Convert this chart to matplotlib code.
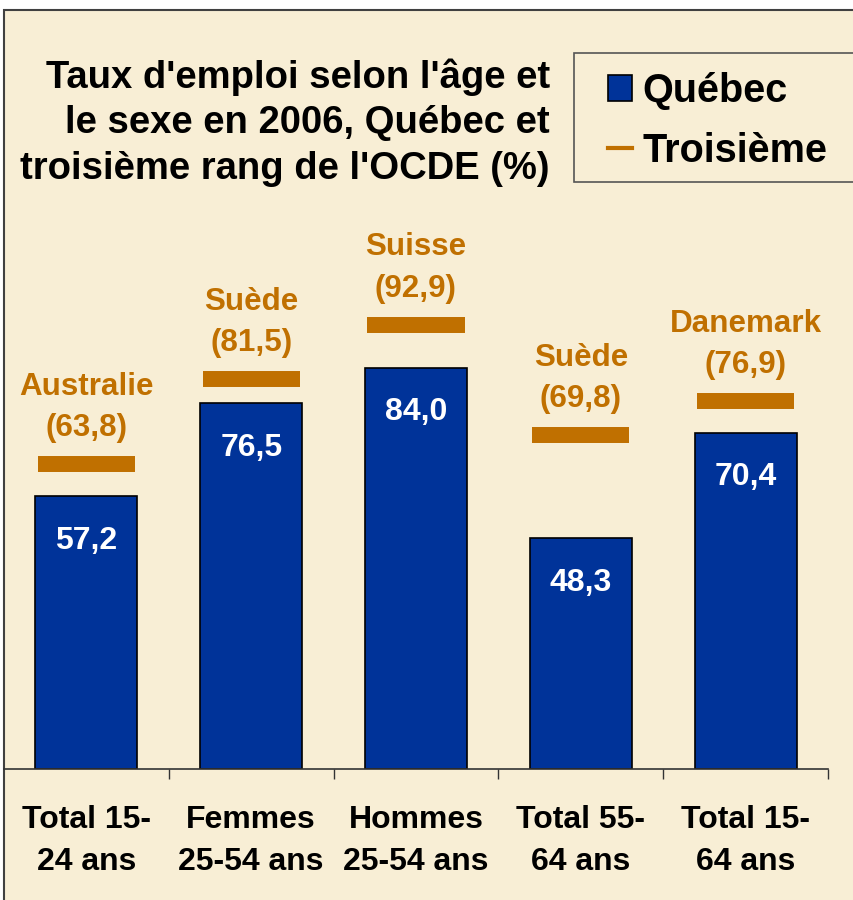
import numpy as np
import matplotlib.pyplot as plt
from matplotlib.patches import Patch, Rectangle
from matplotlib.lines import Line2D

plt.rcParams['font.family'] = ['Liberation Sans', 'DejaVu Sans']
plt.rcParams['font.weight'] = 'bold'

# data
categories = ["Total 15-\n24 ans", "Femmes\n25-54 ans", "Hommes\n25-54 ans",
              "Total 55-\n64 ans", "Total 15-\n64 ans"]
quebec = [57.2, 76.5, 84.0, 48.3, 70.4]
troisieme = [63.8, 81.5, 92.9, 69.8, 76.9]
pays = ["Australie", "Suède", "Suisse", "Suède", "Danemark"]

bg = '#F8EED5'
blue = '#003399'
orange = '#C07000'

fig = plt.figure(figsize=(8.54, 9.0), dpi=100, facecolor='white')
# outer frame of the chart
fig.patches.append(Rectangle((4/854, -0.01), 1.0, 1 - 10/900 + 0.01, transform=fig.transFigure,
                             facecolor=bg, edgecolor='#404040', linewidth=1.5, zorder=-5))
# legend box, runs past the right edge like the original
fig.patches.append(Rectangle((574/854, 1 - 182/900), 0.5, 129/900, transform=fig.transFigure,
                             facecolor=bg, edgecolor='#555555', linewidth=1.2, zorder=-4))

ax = fig.add_axes([4/854, 131/900, 824/854, 759/900])
ax.set_facecolor('none')
ax.set_zorder(2)
x = np.arange(len(categories))
ax.bar(x, quebec, width=0.62, color=blue, edgecolor='black', linewidth=1.2, zorder=2)
ax.hlines(troisieme, x - 0.295, x + 0.295, colors=orange, linewidth=11.5, zorder=3)

for i in range(len(x)):
    ax.text(x[i], quebec[i] - 9.4, ("%.1f" % quebec[i]).replace('.', ','), ha='center', va='center',
            color='white', fontsize=23, fontweight='bold')
    ax.text(x[i], troisieme[i] + 4.4, pays[i] + "\n(" + ("%.1f" % troisieme[i]).replace('.', ',') + ")",
            ha='center', va='bottom', color=orange, fontsize=22.6, fontweight='bold', linespacing=1.5)

ax.set_xlim(-0.5, 4.5)
ax.set_ylim(0, 158.8)
ax.set_yticks([])
for s in ['top', 'right', 'left']:
    ax.spines[s].set_visible(False)
ax.spines['bottom'].set_linewidth(1.2)
ax.spines['bottom'].set_color('#333333')
ax.set_xticks(x)
ax.set_xticklabels(categories, fontsize=23, fontweight='bold', linespacing=1.5)
ax.tick_params(axis='x', which='major', length=0, pad=26)
ax.set_xticks(list(x[1:] - 0.5) + [4.5], minor=True)
ax.tick_params(axis='x', which='minor', length=7.5, width=1, color='#333333')

fig.text(550/854, 1 - 58/900, "Taux d'emploi selon l'âge et\nle sexe en 2006, Québec et\ntroisième rang de l'OCDE (%)",
         ha='right', va='top', multialignment='right', fontsize=27.5, fontweight='bold', linespacing=1.35)

handles = [Patch(facecolor=blue, edgecolor='black', linewidth=1.2),
           Line2D([0], [0], color=orange, linewidth=3)]
leg = fig.legend(handles, ["Québec", "Troisième"], loc='upper left', bbox_to_anchor=(600/854, 1 - 64/900),
                 frameon=False, fontsize=28.5,
                 handlelength=0.62, handleheight=0.62, handletextpad=0.25, borderpad=0.2, labelspacing=0.55,
                 borderaxespad=0)
for t in leg.get_texts():
    t.set_fontweight('bold')

fig.savefig('out.png', dpi=100, facecolor='white')
